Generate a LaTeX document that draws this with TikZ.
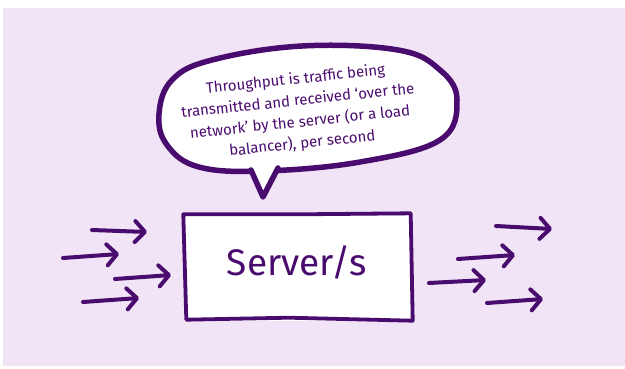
\documentclass[tikz,border=0pt]{standalone}
\usepackage{fontspec}
\setmainfont{Fira Sans}
\usetikzlibrary{arrows.meta}
\definecolor{bg}{HTML}{F0E4F6}
\definecolor{ink}{HTML}{4A0B6E}
\begin{document}
\begin{tikzpicture}[x=1pt,y=-1pt,
  flow/.style={draw=ink, line width=4pt, line cap=round,
    -{Straight Barb[length=10pt,width=21pt,round]}},
  outline/.style={draw=ink, line width=3.8pt, line join=round, line cap=round},
  bubbleline/.style={draw=ink, line width=5.5pt, line join=round, line cap=round},
  bubbletxt/.style={text=ink, font=\fontsize{15}{21.5}\selectfont, align=center, inner sep=0pt},
  bigtxt/.style={text=ink, font=\fontsize{37}{42}\selectfont, inner sep=0pt}]
\useasboundingbox (0,0) rectangle (625,369);
\fill[bg] (3,8) rectangle (625,366);

% server box
\node[fill=white, minimum width=227pt, minimum height=105pt, inner sep=0pt] (server) at (297,268) {};
\draw[outline] ([shift={(0,-1)}]server.north west) -- ([shift={(-110,-1)}]server.north east)
  -- ([shift={(0,-2)}]server.north east) -- ([shift={(2,0)}]server.south east)
  -- ([shift={(-8,-3)}]server.south) -- ([shift={(3,-1)}]server.south west) -- cycle;
\node[bigtxt] (serverlabel) at (297,262) {Server/s};

% speech bubble
\coordinate (tailL) at (251,168);
\coordinate (tailR) at (278,166);
\coordinate (tip) at (263,197);
\filldraw[bubbleline, fill=white] plot[smooth cycle, tension=0.65] coordinates {
  (159,114) (172,80) (212,60) (302,46) (398,50) (440,70) (457,100)
  (440,140) (360,162) (264,171) (199,167) (167,145)};
\fill[white] ([shift={(-2,-4)}]tailL) -- (tip) -- ([shift={(2,-4)}]tailR) -- cycle;
\draw[bubbleline] ([shift={(0,2)}]tailL) -- (tip) -- ([shift={(0,2)}]tailR);
\node[bubbletxt, rotate=6] (note) at (299,112) {Throughput is traffic being\\
transmitted and received ‘over the\\
network’ by the server (or a load\\
balancer), per second};

% incoming arrows
\coordinate (a1s) at (92,230); \coordinate (a1e) at (147,232);
\coordinate (a2s) at (63,258); \coordinate (a2e) at (119,254);
\coordinate (a3s) at (115,279); \coordinate (a3e) at (171,275);
\coordinate (a4s) at (83,302); \coordinate (a4e) at (139,298);
\draw[flow] (a1s) -- (a1e);
\draw[flow] (a2s) -- (a2e);
\draw[flow] (a3s) -- (a3e);
\draw[flow] (a4s) -- (a4e);

% outgoing arrows
\coordinate (b1s) at (496,226); \coordinate (b1e) at (552,229);
\coordinate (b2s) at (458,259); \coordinate (b2e) at (515,255);
\coordinate (b3s) at (429,283); \coordinate (b3e) at (486,280);
\coordinate (b4s) at (487,303); \coordinate (b4e) at (543,299);
\draw[flow] (b1s) -- (b1e);
\draw[flow] (b2s) -- (b2e);
\draw[flow] (b3s) -- (b3e);
\draw[flow] (b4s) -- (b4e);
\end{tikzpicture}
\end{document}
